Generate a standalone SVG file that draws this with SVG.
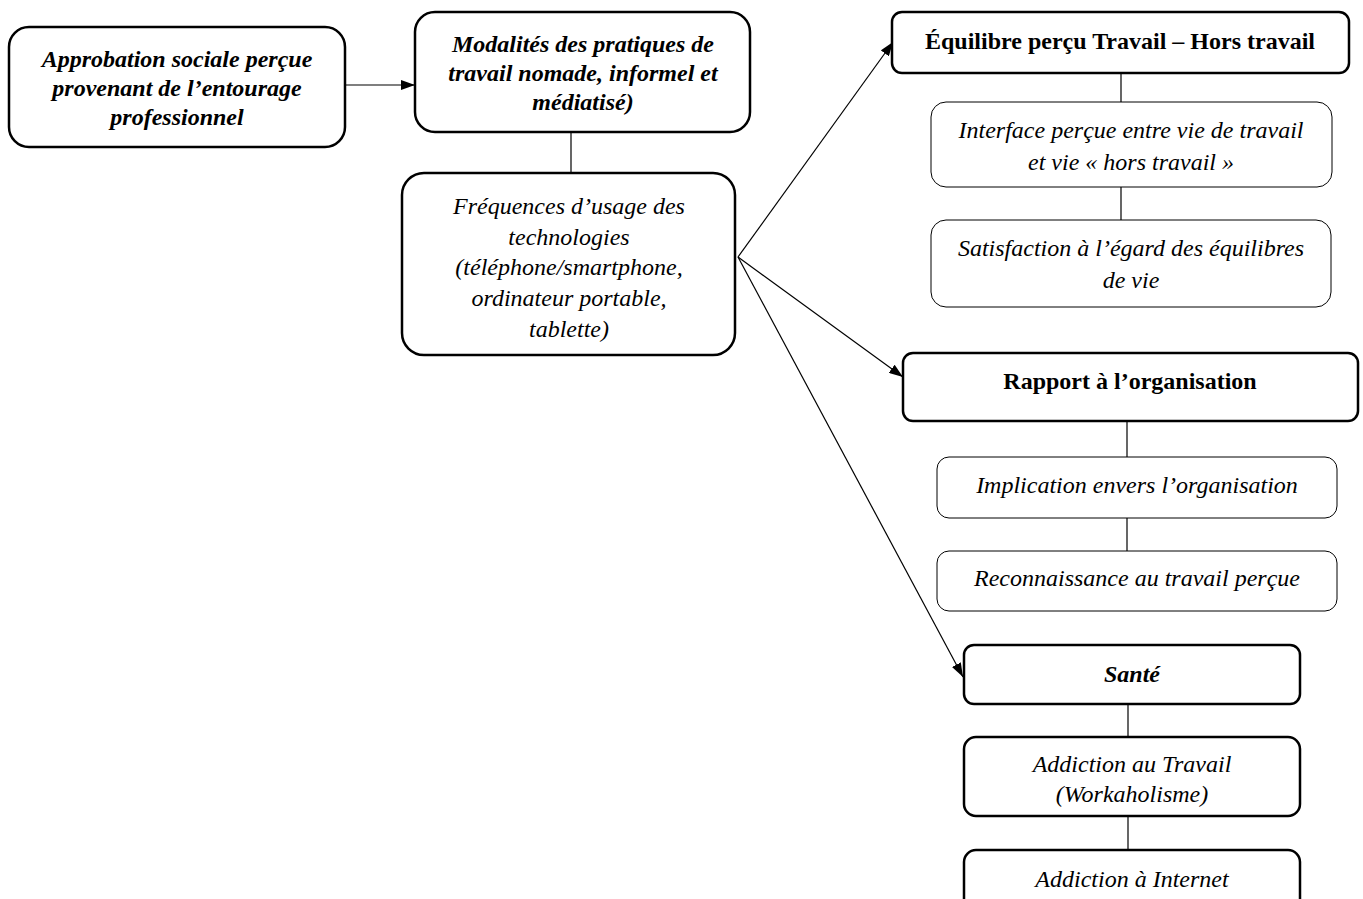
<svg xmlns="http://www.w3.org/2000/svg" width="1363" height="899" viewBox="0 0 1363 899">
<defs>
<marker id="arr" viewBox="0 0 14 10" refX="14" refY="5" markerWidth="14" markerHeight="10" markerUnits="userSpaceOnUse" orient="auto">
<path d="M0,0 L14,5 L0,10 Z" fill="#000"/>
</marker>
<style>
.thick{fill:#fff;stroke:#000;stroke-width:2.5}
.thin{fill:#fff;stroke:#000;stroke-width:1}
.t{font-family:"Liberation Serif","Times New Roman",serif;font-size:24px;fill:#000;text-anchor:middle}
.bi{font-weight:bold;font-style:italic}
.b{font-weight:bold}
.i{font-style:italic}
.c{stroke:#000;stroke-width:1.2;fill:none}
</style>
</defs>
<rect width="1363" height="899" fill="#fff"/>
<g id="connectors">
<line class="c" x1="345" y1="85" x2="415" y2="85" marker-end="url(#arr)"/>
<line class="c" x1="571" y1="132" x2="571" y2="173"/>
<line class="c" x1="738" y1="257" x2="893" y2="42" marker-end="url(#arr)"/>
<line class="c" x1="738" y1="257" x2="903" y2="377" marker-end="url(#arr)"/>
<line class="c" x1="738" y1="257" x2="963" y2="677" marker-end="url(#arr)"/>
<line class="c" x1="1121" y1="73" x2="1121" y2="102"/>
<line class="c" x1="1121" y1="187" x2="1121" y2="220"/>
<line class="c" x1="1127" y1="421" x2="1127" y2="457"/>
<line class="c" x1="1127" y1="518" x2="1127" y2="551"/>
<line class="c" x1="1128" y1="704" x2="1128" y2="737"/>
<line class="c" x1="1128" y1="816" x2="1128" y2="850"/>
</g>
<g id="approbation">
<rect class="thick" x="9" y="27" width="336" height="120" rx="20"/>
<text class="t bi" x="177" y="67">Approbation sociale perçue</text>
<text class="t bi" x="177" y="96">provenant de l’entourage</text>
<text class="t bi" x="177" y="125">professionnel</text>
</g>
<g id="modalites">
<rect class="thick" x="415" y="12" width="335" height="120" rx="20"/>
<text class="t bi" x="583" y="52">Modalités des pratiques de</text>
<text class="t bi" x="583" y="81">travail nomade, informel et</text>
<text class="t bi" x="583" y="110">médiatisé)</text>
</g>
<g id="frequences">
<rect class="thick" x="402" y="173" width="333" height="182" rx="22"/>
<text class="t i" x="569" y="214">Fréquences d’usage des</text>
<text class="t i" x="569" y="245">technologies</text>
<text class="t i" x="569" y="275">(téléphone/smartphone,</text>
<text class="t i" x="569" y="306">ordinateur portable,</text>
<text class="t i" x="569" y="337">tablette)</text>
</g>
<g id="equilibre">
<rect class="thick" x="892" y="12" width="457" height="61" rx="10"/>
<text class="t b" x="1120" y="49">Équilibre perçu Travail – Hors travail</text>
</g>
<g id="interface">
<rect class="thin" x="931" y="102" width="401" height="85" rx="15"/>
<text class="t i" x="1131" y="138">Interface perçue entre vie de travail</text>
<text class="t i" x="1131" y="170">et vie « hors travail »</text>
</g>
<g id="satisfaction">
<rect class="thin" x="931" y="220" width="400" height="87" rx="15"/>
<text class="t i" x="1131" y="256">Satisfaction à l’égard des équilibres</text>
<text class="t i" x="1131" y="288">de vie</text>
</g>
<g id="rapport">
<rect class="thick" x="903" y="353" width="455" height="68" rx="10"/>
<text class="t b" x="1130" y="389">Rapport à l’organisation</text>
</g>
<g id="implication">
<rect class="thin" x="937" y="457" width="400" height="61" rx="12"/>
<text class="t i" x="1137" y="493">Implication envers l’organisation</text>
</g>
<g id="reconnaissance">
<rect class="thin" x="937" y="551" width="400" height="60" rx="12"/>
<text class="t i" x="1137" y="586">Reconnaissance au travail perçue</text>
</g>
<g id="sante">
<rect class="thick" x="964" y="645" width="336" height="59" rx="10"/>
<text class="t bi" x="1132" y="682">Santé</text>
</g>
<g id="workaholisme">
<rect class="thick" x="964" y="737" width="336" height="79" rx="12"/>
<text class="t i" x="1132" y="772">Addiction au Travail</text>
<text class="t i" x="1132" y="802">(Workaholisme)</text>
</g>
<g id="internet">
<rect class="thick" x="964" y="850" width="336" height="70" rx="12"/>
<text class="t i" x="1132" y="887">Addiction à Internet</text>
</g>
</svg>
